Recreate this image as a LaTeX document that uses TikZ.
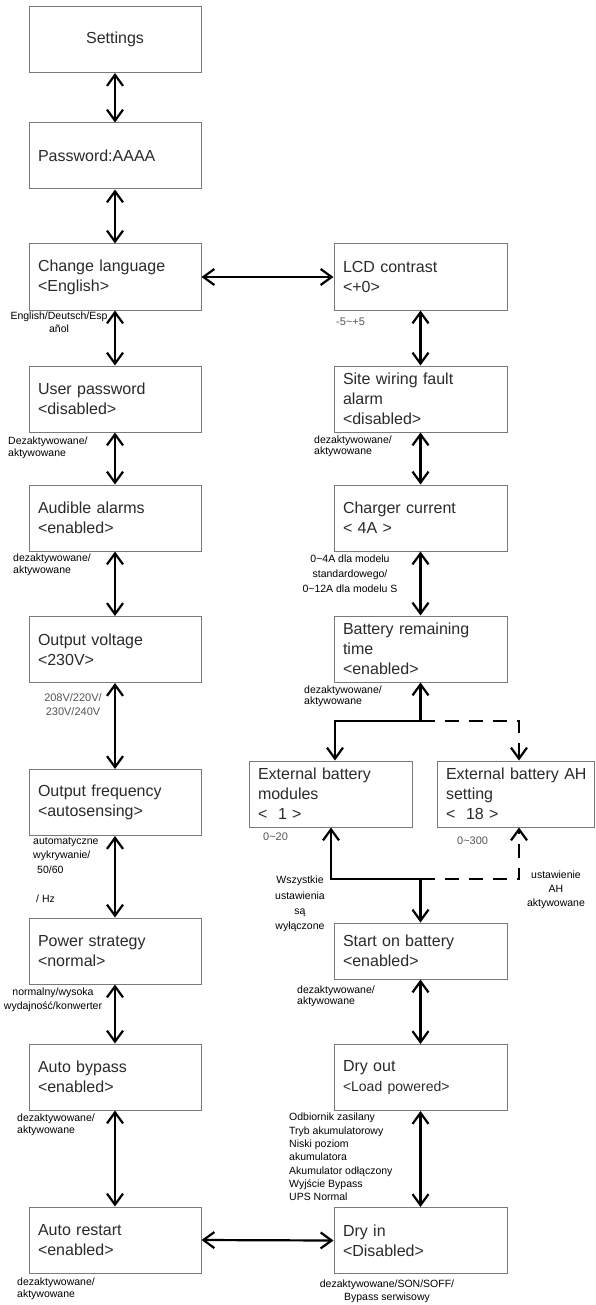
\documentclass[tikz,border=0pt]{standalone}
\usepackage{fontspec}
\setmainfont{Liberation Sans}
\usetikzlibrary{arrows.meta}
\definecolor{boxgray}{HTML}{7A7A7A}
\definecolor{txtgray}{HTML}{2A2A2A}
\definecolor{anngray}{HTML}{555555}
\begin{document}
\begin{tikzpicture}[x=1pt,y=-1pt,
  box/.style={draw=boxgray, line width=1pt, text=txtgray, font=\fontsize{16}{20}\selectfont,
    align=left, inner xsep=9pt, inner ysep=0pt, minimum height=66pt},
  lbox/.style={box, text width=154pt},
  rbox/.style={box, text width=155pt},
  modbox/.style={box, text width=145pt},
  ahbox/.style={box, text width=139pt},
  ann/.style={font=\fontsize{10.5}{12}\selectfont, inner sep=0pt, align=left, text=black},
  gann/.style={font=\fontsize{11}{14}\selectfont, inner sep=0pt, align=center, text=anngray},
  conn/.style={line width=2.2pt, {Straight Barb[length=11pt,width=16pt,line width=2.2pt]}-{Straight Barb[length=11pt,width=16pt,line width=2.2pt]}},
  sconn/.style={line width=2.2pt, -{Straight Barb[length=11pt,width=16pt,line width=2.2pt]}},
  dconn/.style={sconn, dash pattern=on 14pt off 10pt},
]
\useasboundingbox (0,0) rectangle (595,1305);

% left column
\node[lbox, align=center] (set) at (115,39.5) {Settings};
\node[lbox] (pw) at (115,156) {Password:AAAA};
\node[lbox] (lang) at (115,277) {Change language\\<English>};
\node[lbox] (user) at (115,399) {User password\\<disabled>};
\node[lbox] (aud) at (115,518) {Audible alarms\\<enabled>};
\node[lbox] (volt) at (115,649.5) {Output voltage\\<230V>};
\node[lbox] (freq) at (115,802.5) {Output frequency\\<autosensing>};
\node[lbox] (power) at (115,951) {Power strategy\\<normal>};
\node[lbox] (byp) at (115,1077) {Auto bypass\\<enabled>};
\node[lbox] (restart) at (115,1240) {Auto restart\\<enabled>};

% right column
\node[rbox] (lcd) at (420.5,277) {LCD contrast\\<+0>};
\node[rbox] (site) at (420.5,399) {Site wiring fault\\alarm\\<disabled>};
\node[rbox] (charger) at (420.5,518) {Charger current\\< 4A >};
\node[rbox] (batt) at (420.5,649) {Battery remaining\\time\\<enabled>};
\node[modbox] (mod) at (330.5,794) {External battery\\modules\\<\ \ 1 >};
\node[ahbox] (ah) at (515.5,794) {\mbox{External battery AH}\\setting\\<\ \ 18 >};
\node[rbox, minimum height=56pt] (start) at (420.5,951) {Start on battery\\<enabled>};
\node[rbox] (dryout) at (420.5,1077.5) {Dry out\\\fontsize{14}{20}\selectfont<Load powered>};
\node[rbox] (dryin) at (420.5,1240.5) {Dry in\\<Disabled>};

% junctions
\coordinate (j1) at (420.5,721);
\coordinate (j2) at (420.5,879);

% connectors left
\draw[conn] (set.south) -- (pw.north);
\draw[conn] (pw.south) -- (lang.north);
\draw[conn] (lang.south) -- (user.north);
\draw[conn] (user.south) -- (aud.north);
\draw[conn] (aud.south) -- (volt.north);
\draw[conn] (volt.south) -- (freq.north);
\draw[conn] (freq.south) -- (power.north);
\draw[conn] (power.south) -- (byp.north);
\draw[conn] (byp.south) -- (restart.north);
\draw[conn] (lang.east) -- (lcd.west);
\draw[conn] (restart.east) -- (dryin.west);

% connectors right
\draw[conn] (lcd.south) -- (site.north);
\draw[conn] (site.south) -- (charger.north);
\draw[conn] (charger.south) -- (batt.north);
\draw[sconn] (j1) -- (batt.south);
\draw[sconn] (j1) -| ([xshift=4.5pt]mod.north);
\draw[dconn] (j1) -| ([xshift=3.5pt]ah.north);
\draw[sconn] (j2) -| ([xshift=0.5pt]mod.south);
\draw[dconn] (j2) -| ([xshift=3.5pt]ah.south);
\draw[sconn] (j2) -- (start.north);
\draw[conn] (start.south) -- (dryout.north);
\draw[conn] (dryout.south) -- (dryin.north);

% annotations left
\node[ann, align=center, font=\fontsize{10.5}{13}\selectfont] (a1) at (59,322) {English/Deutsch/Esp\\añol};
\node[ann, anchor=west] (a2) at (8,448) {Dezaktywowane/\\aktywowane};
\node[ann, anchor=west, font=\fontsize{10.5}{12.5}\selectfont] (a3) at (13,565) {dezaktywowane/\\aktywowane};
\node[gann] (a4) at (73,705) {208V/220V/\\230V/240V};
\node[ann, anchor=west, font=\fontsize{10.5}{14.5}\selectfont] (a5) at (33,870) {automatyczne\\wykrywanie/\\\hspace*{4pt}50/60\\\mbox{}\\\hspace*{3pt}/ Hz};
\node[ann, align=center, font=\fontsize{10.5}{14}\selectfont] (a6) at (53,1000) {normalny/wysoka\\wydajność/konwerter};
\node[ann, anchor=west] (a7) at (17,1125) {dezaktywowane/\\aktywowane};
\node[ann, anchor=west] (a8) at (17,1289) {dezaktywowane/\\aktywowane};

% annotations right
\node[gann, anchor=west] (a9) at (336,322) {-5\textasciitilde+5};
\node[ann, anchor=west, font=\fontsize{10.5}{11.5}\selectfont] (a10) at (314,446.5) {dezaktywowane/\\aktywowane};
\node[ann, align=center, font=\fontsize{10.5}{15}\selectfont] (a11) at (350,574) {0\textasciitilde4A dla modelu\\standardowego/\\0\textasciitilde12A dla modelu S};
\node[ann, anchor=west, font=\fontsize{10.5}{11}\selectfont] (a12) at (304,696) {dezaktywowane/\\aktywowane};
\node[gann, anchor=west] (a13) at (263,837) {0\textasciitilde20};
\node[gann, anchor=west] (a14) at (457,841) {0\textasciitilde300};
\node[ann, align=center, font=\fontsize{10.5}{15.3}\selectfont] (a15) at (300,904) {Wszystkie\\ustawienia\\są\\wyłączone};
\node[ann, align=center, font=\fontsize{10.5}{14}\selectfont] (a16) at (556,890) {ustawienie\\AH\\aktywowane};
\node[ann, anchor=west, font=\fontsize{10.5}{11}\selectfont] (a17) at (297,996.5) {dezaktywowane/\\aktywowane};
\node[ann, anchor=west, font=\fontsize{10.5}{13.3}\selectfont] (a18) at (289,1157) {Odbiornik zasilany\\Tryb akumulatorowy\\Niski poziom\\akumulatora\\Akumulator odłączony\\Wyjście Bypass\\UPS Normal};
\node[ann, align=center, font=\fontsize{10.5}{13.5}\selectfont] (a19) at (387,1291.5) {dezaktywowane/SON/SOFF/\\Bypass serwisowy};
\end{tikzpicture}
\end{document}
